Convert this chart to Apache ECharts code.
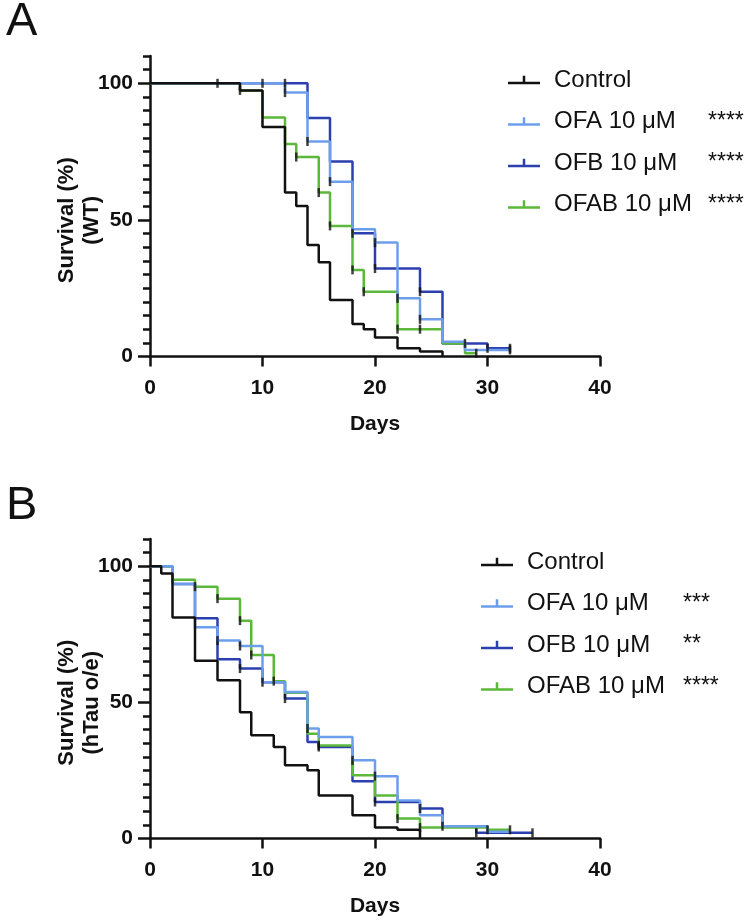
<!DOCTYPE html>
<html>
<head>
<meta charset="utf-8">
<script src="https://cdn.jsdelivr.net/npm/echarts@6/dist/echarts.min.js"></script>
<style>
  html, body { margin: 0; background: #fff; }
  #chart { width: 750px; height: 923px; }
</style>
</head>
<body>
<div id="chart"></div>
<script>
// group names and significance stars
const groupNames = ['Control', 'OFA 10 μM', 'OFB 10 μM', 'OFAB 10 μM'];
const starsA = ['', '****', '****', '****'];
const starsB = ['', '***', '**', '****'];

// axis ticks
const xTicks = [0, 10, 20, 30, 40];
const yLabelTicks = [0, 50, 100];

// Panel A (WT): step points [day] -> survival (%)
const ctrlDaysA = [0, 8, 10, 12, 13, 14, 15, 16, 18, 19, 20, 22, 24, 26];
const ctrlSurvA = [100, 97.4, 84.0, 60.0, 55.1, 40.8, 34.5, 20.7, 11.9, 10.0, 7.0, 3.0, 1.8, 0];
const ofaDaysA = [0, 12, 14, 16, 18, 20, 22, 24, 26, 28, 32];
const ofaSurvA = [100, 96.6, 78.7, 64.0, 46.6, 41.7, 21.3, 13.6, 5.4, 2.4, 2.4];
const ofbDaysA = [0, 14, 16, 18, 20, 24, 26, 30, 32];
const ofbSurvA = [100, 87.3, 71.4, 45.1, 32.2, 23.7, 4.8, 3.0, 3.0];
const ofabDaysA = [0, 8, 10, 12, 13, 15, 16, 18, 19, 22, 26, 28, 29];
const ofabSurvA = [100, 97.4, 87.5, 77.8, 73.0, 60.0, 47.8, 31.7, 23.7, 10.0, 4.8, 1.2, 1.2];

// censored days, panel A
const ctrlCensorA = [6, 8];
const ofaCensorA = [10, 12, 14, 16, 20, 22, 24, 32];
const ofbCensorA = [12, 18, 20, 24, 28, 30, 32];
const ofabCensorA = [13, 15, 16, 18, 19, 22, 24, 29];

// Panel B (hTau o/e)
const ctrlDaysB = [0, 1, 2, 4, 6, 8, 9, 11, 12, 14, 15, 18, 20, 22, 24];
const ctrlSurvB = [100, 97.3, 81.2, 65.3, 58.1, 46.4, 37.9, 33.6, 26.9, 25.1, 15.8, 8.5, 4.0, 3.2, 0];
const ofaDaysB = [0, 2, 4, 6, 8, 10, 12, 14, 15, 18, 20, 22, 24, 26, 30, 32];
const ofaSurvB = [100, 93.5, 77.6, 72.7, 70.7, 57.4, 53.8, 40.4, 37.3, 28.7, 22.9, 14.0, 8.5, 4.5, 2.5, 2.5];
const ofbDaysB = [0, 2, 4, 6, 8, 10, 12, 14, 15, 18, 20, 24, 26, 29, 34];
const ofbSurvB = [100, 93.5, 80.9, 65.8, 62.4, 57.4, 51.4, 35.4, 33.6, 21.0, 13.4, 11.0, 4.5, 2.1, 2.1];
const ofabDaysB = [0, 2, 4, 6, 8, 9, 11, 12, 14, 15, 18, 20, 22, 24, 30, 32];
const ofabSurvB = [100, 95.0, 92.5, 88.1, 80.0, 67.4, 57.8, 53.5, 38.5, 34.2, 23.2, 15.8, 7.3, 4.0, 3.2, 3.2];

// censored days, panel B
const ctrlCensorB = [];
const ofaCensorB = [6, 8, 10, 14, 18, 20, 26];
const ofbCensorB = [8, 12, 15, 20, 24, 29, 34];
const ofabCensorB = [4, 6, 8, 9, 11, 15, 22, 24, 30, 32];

const colors = ['#111111', '#6d9eeb', '#2b3fae', '#5cb83a'];
const fontFamily = '"Liberation Sans", Arial, Helvetica, sans-serif';

const zip = (days, surv) => days.map((d, i) => [d, surv[i]]);

const stepValue = (days, surv, d) => {
  let v = surv[0];
  days.forEach((x, i) => { if (x <= d) v = surv[i]; });
  return v;
};

const panels = [
  {
    days: [ctrlDaysA, ofaDaysA, ofbDaysA, ofabDaysA],
    surv: [ctrlSurvA, ofaSurvA, ofbSurvA, ofabSurvA],
    censor: [ctrlCensorA, ofaCensorA, ofbCensorA, ofabCensorA],
    stars: starsA,
    yName: 'Survival (%)\n(WT)',
    top: 56, height: 300.5,
    legendLeft: 503, legendTop: 62, starsAt: 154,
    letter: 'A', letterTop: -6
  },
  {
    days: [ctrlDaysB, ofaDaysB, ofbDaysB, ofabDaysB],
    surv: [ctrlSurvB, ofaSurvB, ofbSurvB, ofabSurvB],
    censor: [ctrlCensorB, ofaCensorB, ofbCensorB, ofabCensorB],
    stars: starsB,
    yName: 'Survival (%)\n(hTau o/e)',
    top: 539, height: 299.5,
    legendLeft: 476, legendTop: 544, starsAt: 156,
    letter: 'B', letterTop: 478
  }
];

const grid = [];
const xAxis = [];
const yAxis = [];
const series = [];
const legend = [];
const title = [];

const drawOrder = [2, 3, 1, 0];

panels.forEach((p, pi) => {
  grid.push({ left: 150, top: p.top, width: 450, height: p.height });

  xAxis.push({
    gridIndex: pi,
    type: 'value',
    min: 0, max: 40, interval: 10,
    name: 'Days',
    nameLocation: 'middle',
    nameGap: 57,
    nameMoveOverlap: false,
    nameTextStyle: { fontFamily, fontSize: 21, fontWeight: 'bold', color: '#111' },
    axisLine: { lineStyle: { color: '#111', width: 2.5 } },
    axisTick: { length: 10, lineStyle: { color: '#111', width: 2.5 } },
    axisLabel: { fontFamily, fontSize: 21, fontWeight: 'bold', color: '#111', margin: 21,
      customValues: xTicks },
    splitLine: { show: false }
  });

  // major ticks and labels
  yAxis.push({
    gridIndex: pi,
    type: 'value',
    min: 0, max: 110, interval: 50,
    name: p.yName,
    nameLocation: 'middle',
    nameRotate: 90,
    nameGap: 46,
    nameMoveOverlap: false,
    nameTextStyle: { fontFamily, fontSize: 22, fontWeight: 'bold', color: '#111', lineHeight: 25,
      padding: [0, 28, 0, 0] },
    axisLine: { show: true, lineStyle: { color: '#111', width: 2.5 } },
    axisTick: { show: true, length: 12, customValues: yLabelTicks, lineStyle: { color: '#111', width: 2.5 } },
    axisLabel: { fontFamily, fontSize: 21, fontWeight: 'bold', color: '#111', margin: 17,
      customValues: yLabelTicks },
    splitLine: { show: false }
  });
  // minor ticks every 5 %
  yAxis.push({
    gridIndex: pi,
    type: 'value',
    position: 'left',
    min: 0, max: 110, interval: 5,
    axisLine: { show: false },
    axisTick: { show: true, length: 7, lineStyle: { color: '#111', width: 2.5 } },
    axisLabel: { show: false },
    splitLine: { show: false }
  });

  drawOrder.forEach((gi) => {
    series.push({
      name: groupNames[gi],
      type: 'line',
      xAxisIndex: pi,
      yAxisIndex: pi * 2,
      step: 'end',
      symbol: 'none',
      data: zip(p.days[gi], p.surv[gi]),
      lineStyle: { color: colors[gi], width: 2.5 },
      itemStyle: { color: colors[gi] },
      z: 2 + drawOrder.indexOf(gi),
      silent: true
    });
  });

  // censor tick marks
  const censorPts = [];
  p.censor.forEach((list, gi) => {
    list.forEach((d) => censorPts.push([d, stepValue(p.days[gi], p.surv[gi], d)]));
  });
  series.push({
    name: 'censored-' + pi,
    type: 'scatter',
    xAxisIndex: pi,
    yAxisIndex: pi * 2,
    symbol: 'rect',
    symbolSize: [2.5, 9],
    itemStyle: { color: '#111' },
    data: censorPts,
    z: 10,
    silent: true
  });

  legend.push({
    data: groupNames,
    orient: 'vertical',
    left: p.legendLeft,
    top: p.legendTop,
    itemWidth: 32,
    itemHeight: 9,
    itemGap: 15.5,
    icon: 'path://M0,6h32v2.5h-32z M14.75,0h2.5v6h-2.5z',
    selectedMode: false,
    formatter: (name) => {
      const s = p.stars[groupNames.indexOf(name)];
      return '{n|' + name + '}' + (s ? '{s|' + s + '}' : '');
    },
    textStyle: {
      fontFamily, color: '#111', fontSize: 24, lineHeight: 26,
      rich: {
        n: { fontFamily, fontSize: 24, color: '#111', width: p.starsAt, padding: [0, 0, 0, 9] },
        s: { fontFamily, fontSize: 23, color: '#111' }
      }
    }
  });

  title.push({
    text: p.letter,
    left: 1,
    top: p.letterTop,
    textStyle: { fontFamily, fontSize: 47, fontWeight: 'normal', color: '#111' }
  });
});

const chart = echarts.init(document.getElementById('chart'));
chart.setOption({
  backgroundColor: '#fff',
  animation: false,
  title,
  grid,
  xAxis,
  yAxis,
  legend,
  series
});
</script>
</body>
</html>
